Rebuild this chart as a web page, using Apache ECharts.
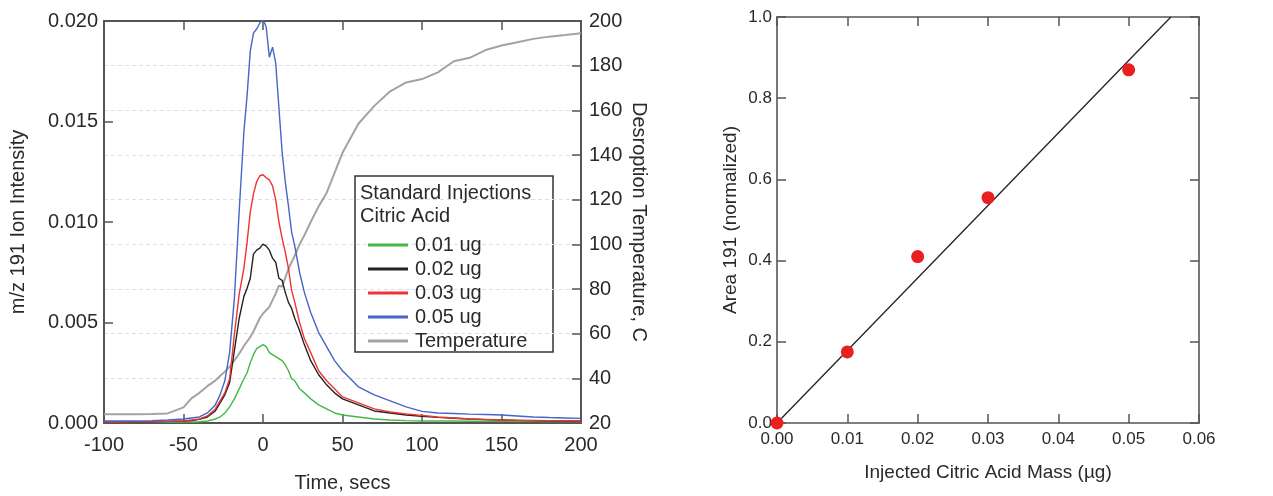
<!DOCTYPE html>
<html>
<head>
<meta charset="utf-8">
<script src="https://cdn.jsdelivr.net/npm/echarts@6/dist/echarts.min.js"></script>
<style>
html,body{margin:0;padding:0;background:#fff;}
#chart{width:1273px;height:496px;}
</style>
</head>
<body>
<div id="chart"></div>
<script>
// ---- Data ----
const times = [-100,-90,-80,-70,-60,-50,-45,-40,-35,-30,-27,-24,-21,-18,-15,-12,-10,-8,-6,-4,-2,0,2,4,6,8,10,12,14,16,18,20,23,26,30,35,40,45,50,60,70,80,90,100,110,120,130,140,150,160,170,180,190,200];
const int001 = [0.00005,0.00005,0.00005,0.00005,0.00005,0.00005,0.00005,0.00006,0.0001,0.0002,0.0003,0.0005,0.0008,0.0012,0.0017,0.0022,0.0025,0.0030,0.0034,0.0037,0.0038,0.0039,0.0038,0.0035,0.0034,0.0033,0.0032,0.0031,0.0029,0.0026,0.0022,0.0021,0.0017,0.0015,0.0012,0.0009,0.0007,0.0005,0.0004,0.0003,0.0002,0.00015,0.00012,0.0001,0.0001,0.0001,0.00009,0.00009,0.00008,0.00008,0.00008,0.00007,0.00007,0.00007];
const int002 = [0.00005,0.00005,0.00005,0.00006,0.00008,0.0001,0.00012,0.00018,0.0003,0.0006,0.0010,0.0014,0.0020,0.0036,0.0052,0.0063,0.0067,0.0072,0.0084,0.0086,0.0087,0.0089,0.0088,0.0086,0.0082,0.0080,0.0072,0.0071,0.0065,0.0060,0.0057,0.0052,0.0046,0.0039,0.0031,0.0024,0.0019,0.0015,0.0012,0.0009,0.0006,0.0005,0.0004,0.00033,0.00028,0.00024,0.0002,0.00017,0.00015,0.00013,0.00012,0.00011,0.0001,0.0001];
const int003 = [0.00005,0.00005,0.00006,0.00007,0.00008,0.0001,0.00015,0.0002,0.00035,0.0007,0.0011,0.0015,0.0022,0.0044,0.0064,0.0077,0.0090,0.0105,0.0114,0.0120,0.0123,0.01235,0.0122,0.0121,0.0118,0.0111,0.0100,0.0092,0.0085,0.0077,0.0066,0.0060,0.0050,0.0042,0.0035,0.0026,0.0021,0.0017,0.0013,0.0010,0.0007,0.00055,0.00045,0.00038,0.0003,0.00025,0.0002,0.00018,0.00015,0.00014,0.00013,0.00012,0.00011,0.0001];
const int005 = [0.0001,0.0001,0.0001,0.00012,0.00015,0.0002,0.00025,0.0003,0.0005,0.0009,0.0014,0.0021,0.0035,0.0062,0.0105,0.0145,0.0163,0.0185,0.0194,0.0196,0.0199,0.0201,0.0197,0.0182,0.0187,0.0179,0.0157,0.0135,0.0120,0.0108,0.0095,0.0088,0.0075,0.0065,0.0055,0.0045,0.0038,0.0031,0.0026,0.0018,0.0014,0.0011,0.0008,0.00058,0.0005,0.00047,0.00044,0.00042,0.0004,0.00035,0.0003,0.00027,0.00025,0.00023];
const temperature = [23.9,23.9,23.9,24.0,24.3,27,31,33.5,36.5,39,41,43,45.2,48,51,54.5,56.5,58.5,61,64,67,69,70.5,72,75,78,81.5,81,85,89,92,95,100,104,110,117,123,132,141,154,162,168.5,172.5,174,177,182,183.5,187,189,190.5,192,193,193.7,194.5];
const seriesNames = ['0.01 ug','0.02 ug','0.03 ug','0.05 ug','Temperature'];
const legendTitle = ['Standard Injections','Citric Acid'];

const massX = [0.00,0.01,0.02,0.03,0.05];
const areaY = [0.0,0.175,0.41,0.555,0.87];
const fitX = [0.0,0.056];
const fitY = [0.0,1.0];

// ---- Chart ----
const FONT = '"Liberation Sans", Arial, Helvetica, sans-serif';
const AX = '#555';
const TXT = '#2a2a2a';
const zip = (xs, ys) => xs.map((x, i) => [x, ys[i]]);

const chart = echarts.init(document.getElementById('chart'), null, {renderer:'canvas'});

function axisBase(extra){
  return Object.assign({
    type:'value',
    axisLine:{show:true, onZero:false, lineStyle:{color:AX, width:2}},
    axisTick:{show:true, inside:true, length:9, lineStyle:{color:AX, width:1.5}},
    splitLine:{show:false},
    axisLabel:{color:TXT, fontSize:20, fontFamily:FONT},
    nameTextStyle:{color:TXT, fontSize:20, fontFamily:FONT}
  }, extra);
}

const option = {
  animation:false,
  backgroundColor:'#fff',
  textStyle:{fontFamily:FONT},
  grid:[
    {left:104, top:21, width:477, height:402, outerBoundsMode:'none', containLabel:false},
    {left:777, top:17, width:422, height:406, outerBoundsMode:'none', containLabel:false}
  ],
  xAxis:[
    axisBase({gridIndex:0, min:-100, max:200, interval:50, position:'bottom',
      axisLabel:{color:TXT, fontSize:20, fontFamily:FONT, margin:12},
      name:'Time, secs', nameLocation:'middle', nameGap:50}),
    axisBase({gridIndex:0, min:-100, max:200, interval:50, position:'top', axisLabel:{show:false}}),
    axisBase({gridIndex:1, min:0, max:0.06, interval:0.01, position:'bottom',
      axisLine:{show:true, onZero:false, lineStyle:{color:AX, width:1.6}},
      axisLabel:{color:TXT, fontSize:17, fontFamily:FONT, margin:8, formatter:v=>v.toFixed(2)},
      name:'Injected Citric Acid Mass (\u00b5g)', nameLocation:'middle', nameGap:40,
      nameTextStyle:{color:TXT, fontSize:19, fontFamily:FONT}}),
    axisBase({gridIndex:1, min:0, max:0.06, interval:0.01, position:'top', axisLabel:{show:false},
      axisLine:{show:true, onZero:false, lineStyle:{color:AX, width:1.6}}})
  ],
  yAxis:[
    axisBase({gridIndex:0, min:0, max:0.02, interval:0.005, position:'left',
      axisLabel:{color:TXT, fontSize:20, fontFamily:FONT, margin:6, formatter:v=>v.toFixed(3)},
      name:'m/z 191 Ion Intensity', nameLocation:'middle', nameGap:76}),
    axisBase({gridIndex:0, min:20, max:200, interval:20, position:'right',
      axisLabel:{color:TXT, fontSize:20, fontFamily:FONT, margin:8},
      splitLine:{show:true, lineStyle:{color:'#d9dcf2', width:1, type:[4,3]}},
      name:'Desroption Temperature, C', nameLocation:'middle', nameGap:48, nameRotate:-90}),
    axisBase({gridIndex:1, min:0, max:1, interval:0.2, position:'left',
      axisLine:{show:true, onZero:false, lineStyle:{color:AX, width:1.6}},
      axisLabel:{color:TXT, fontSize:17, fontFamily:FONT, margin:5, formatter:v=>v.toFixed(1)},
      name:'Area 191 (normalized)', nameLocation:'middle', nameGap:37,
      nameTextStyle:{color:TXT, fontSize:19, fontFamily:FONT}}),
    axisBase({gridIndex:1, min:0, max:1, interval:0.2, position:'right', axisLabel:{show:false},
      axisLine:{show:true, onZero:false, lineStyle:{color:AX, width:1.6}}})
  ],
  legend:{
    show:true, orient:'vertical', left:363, top:230,
    icon:'rect', itemWidth:40, itemHeight:3, itemGap:4,
    textStyle:{color:TXT, fontSize:20, fontFamily:FONT, padding:[0,0,0,2]},
    data:seriesNames
  },
  graphic:[
    {type:'rect', shape:{x:355, y:176, width:198, height:176},
      style:{fill:'#fff', stroke:'#333', lineWidth:1.5}, z:0, silent:true},
    {type:'text', x:360, y:193, style:{text:legendTitle[0], fill:TXT, font:'20px '+FONT, verticalAlign:'middle'}, z:10},
    {type:'text', x:360, y:216, style:{text:legendTitle[1], fill:TXT, font:'20px '+FONT, verticalAlign:'middle'}, z:10}
  ],
  series:[
    {name:seriesNames[0], type:'line', xAxisIndex:0, yAxisIndex:0, data:zip(times,int001), symbol:'none',
      lineStyle:{color:'#44b845', width:1.4}, itemStyle:{color:'#44b845'}, z:3},
    {name:seriesNames[1], type:'line', xAxisIndex:0, yAxisIndex:0, data:zip(times,int002), symbol:'none',
      lineStyle:{color:'#222222', width:1.4}, itemStyle:{color:'#222222'}, z:3},
    {name:seriesNames[2], type:'line', xAxisIndex:0, yAxisIndex:0, data:zip(times,int003), symbol:'none',
      lineStyle:{color:'#ee3333', width:1.4}, itemStyle:{color:'#ee3333'}, z:3},
    {name:seriesNames[3], type:'line', xAxisIndex:0, yAxisIndex:0, data:zip(times,int005), symbol:'none',
      lineStyle:{color:'#4565c8', width:1.4}, itemStyle:{color:'#4565c8'}, z:3},
    {name:seriesNames[4], type:'line', xAxisIndex:0, yAxisIndex:1, data:zip(times,temperature), symbol:'none',
      lineStyle:{color:'#a3a3a3', width:2}, itemStyle:{color:'#a3a3a3'}, z:2},
    {name:'fit', type:'line', xAxisIndex:2, yAxisIndex:2, data:zip(fitX,fitY), symbol:'none',
      lineStyle:{color:'#222', width:1.3}, z:3},
    {name:'points', type:'scatter', xAxisIndex:2, yAxisIndex:2, data:zip(massX,areaY), symbol:'circle',
      symbolSize:13, itemStyle:{color:'#e8201f', opacity:1}, z:4, clip:false}
  ]
};
chart.setOption(option);
</script>
</body>
</html>
